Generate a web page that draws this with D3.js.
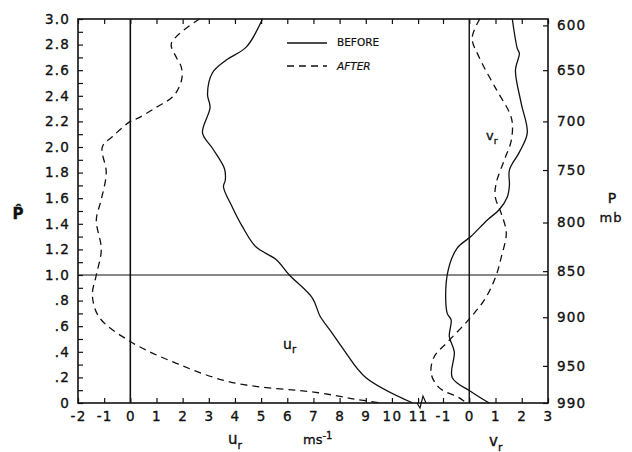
<!DOCTYPE html>
<html>
<head>
<meta charset="utf-8">
<script src="https://cdn.jsdelivr.net/npm/d3@7"></script>
<style>
  body { margin: 0; background: #fff; }
  svg text { font-family: "DejaVu Sans", sans-serif; fill: #111; stroke: #111; stroke-width: 0.35px; }
  .axis text { font-size: 13.5px; letter-spacing: 1.2px; }
  .axis path.domain { display: none; }
  .axis line { stroke: #111; stroke-width: 1.2; }
</style>
</head>
<body>
<svg id="chart" width="632" height="452"></svg>
<script>
// p-hat axis (left)
var pHatTicks = [0, 0.2, 0.4, 0.6, 0.8, 1.0, 1.2, 1.4, 1.6, 1.8, 2.0, 2.2, 2.4, 2.6, 2.8, 3.0];
var pHatLabels = ["0", ".2", ".4", ".6", ".8", "1.0", "1.2", "1.4", "1.6", "1.8", "2.0", "2.2", "2.4", "2.6", "2.8", "3.0"];

// pressure axis (right), position given in p-hat units
var presPos = [2.95, 2.60, 2.20, 1.82, 1.41, 1.03, 0.67, 0.29, 0];
var presLabels = ["600", "650", "700", "750", "800", "850", "900", "950", "990"];

// bottom axes
var uTicks = [-2, -1, 0, 1, 2, 3, 4, 5, 6, 7, 8, 9, 10, 11];
var uLabels = ["-2", "-1", "0", "1", "2", "3", "4", "5", "6", "7", "8", "9", "10", "11"];
var vTicks = [-1, 0, 1, 2, 3];
var vLabels = ["-1", "0", "1", "2", "3"];

// u_r profiles: p-hat and wind (m/s)
var uBeforeP = [3.0, 2.78, 2.68, 2.58, 2.41, 2.31, 2.11, 1.99, 1.83, 1.74, 1.69, 1.53, 1.38, 1.22, 1.12, 1.0, 0.82, 0.68, 0.55, 0.41, 0.2, 0];
var uBeforeV = [5.05, 4.43, 3.67, 3.14, 2.95, 3.05, 2.76, 3.14, 3.6, 3.63, 3.56, 3.9, 4.28, 4.8, 5.58, 6.08, 6.96, 7.25, 7.7, 8.18, 9.0, 10.8];

var uAfterP = [3.0, 2.81, 2.70, 2.63, 2.55, 2.47, 2.39, 2.31, 2.23, 2.20, 2.08, 2.0, 1.8, 1.59, 1.43, 1.2, 1.0, 0.84, 0.67, 0.48, 0.31, 0.16, 0.08, 0.03, 0];
var uAfterV = [2.64, 1.57, 1.76, 1.94, 1.98, 1.87, 1.61, 0.99, 0.34, 0, -0.69, -1.07, -0.92, -1.11, -1.3, -1.11, -1.3, -1.45, -1.19, 0, 1.76, 3.9, 7.2, 8.6, 9.6];

// v_r profiles
var vBeforeP = [3.0, 2.77, 2.73, 2.6, 2.34, 2.11, 1.96, 1.82, 1.7, 1.61, 1.51, 1.43, 1.3, 1.21, 1.0, 0.7, 0.65, 0.52, 0.4, 0.2, 0.09, 0];
var vBeforeV = [1.64, 1.83, 1.91, 1.76, 1.98, 2.21, 1.91, 1.53, 1.53, 1.45, 1.14, 0.69, 0.06, -0.46, -0.84, -0.84, -0.69, -0.76, -0.57, -0.65, 0.06, 0.76];

var vAfterP = [3.0, 2.85, 2.7, 2.45, 2.27, 2.19, 2.05, 1.9, 1.72, 1.61, 1.48, 1.33, 1.14, 1.0, 0.83, 0.67, 0.49, 0.36, 0.23, 0.12, 0.04, 0];
var vAfterV = [0.4, 0.11, 0.38, 1.03, 1.53, 1.64, 1.6, 1.34, 1.03, 0.99, 1.22, 1.41, 1.22, 1.03, 0.65, 0.06, -0.76, -1.34, -1.45, -1.15, -0.38, -0.11];

var svg = d3.select("#chart");

var plotL = 78, plotR = 548, plotT = 19, plotB = 403;
var y = d3.scaleLinear().domain([0, 3]).range([plotB, plotT]);
var xU = d3.scaleLinear().domain([-2, 11.15]).range([plotL, 422]);
var xV = d3.scaleLinear().domain([-1.8, 3]).range([422, plotR]);

function fmt(ticks, labels) {
    return function(d) {
        var i = ticks.indexOf(d);
        return i < 0 ? "" : labels[i];
    };
}

// left axis, ticks every 0.1 pointing inward
var minor = d3.range(0, 31).map(function(i) { return i / 10; });
svg.append("g")
    .attr("class", "axis")
    .attr("transform", "translate(" + plotL + ",0)")
    .call(d3.axisLeft(y).tickValues(minor).tickSize(-5).tickPadding(8)
        .tickFormat(function(d) {
            var i = pHatTicks.findIndex(function(t) { return Math.abs(t - d) < 1e-6; });
            return i < 0 ? "" : pHatLabels[i];
        }));

// right axis (pressure)
svg.append("g")
    .attr("class", "axis")
    .attr("transform", "translate(" + plotR + ",0)")
    .call(d3.axisRight(y).tickValues(presPos).tickSize(-5).tickPadding(9)
        .tickFormat(fmt(presPos, presLabels)));

// bottom axes
svg.append("g")
    .attr("class", "axis")
    .attr("transform", "translate(0," + plotB + ")")
    .call(d3.axisBottom(xU).tickValues(uTicks).tickSize(-5).tickPadding(8)
        .tickFormat(fmt(uTicks, uLabels)));
svg.append("g")
    .attr("class", "axis")
    .attr("transform", "translate(0," + plotB + ")")
    .call(d3.axisBottom(xV).tickValues(vTicks).tickSize(-5).tickPadding(8)
        .tickFormat(fmt(vTicks, vLabels)));

// top ticks
svg.append("g")
    .attr("class", "axis")
    .attr("transform", "translate(0," + plotT + ")")
    .call(d3.axisTop(xU).tickValues(uTicks).tickSize(-5).tickFormat(""));
svg.append("g")
    .attr("class", "axis")
    .attr("transform", "translate(0," + plotT + ")")
    .call(d3.axisTop(xV).tickValues(vTicks).tickSize(-5).tickFormat(""));

// frame
svg.append("rect")
    .attr("x", plotL).attr("y", plotT)
    .attr("width", plotR - plotL).attr("height", plotB - plotT)
    .attr("fill", "none").attr("stroke", "#111").attr("stroke-width", 1.6);

// zero lines and p-hat = 1 line
svg.append("line")
    .attr("x1", xU(0)).attr("x2", xU(0)).attr("y1", plotT).attr("y2", plotB)
    .attr("stroke", "#111").attr("stroke-width", 1.6);
svg.append("line")
    .attr("x1", xV(0)).attr("x2", xV(0)).attr("y1", plotT).attr("y2", plotB)
    .attr("stroke", "#111").attr("stroke-width", 1.4);
svg.append("line")
    .attr("x1", plotL).attr("x2", plotR).attr("y1", y(1)).attr("y2", y(1))
    .attr("stroke", "#111").attr("stroke-width", 1.1);

// axis break between u and v scales
var bx = xU(11.15);
svg.append("path")
    .attr("d", "M" + (bx - 5) + "," + plotB + " L" + (bx - 2) + "," + (plotB + 5) +
        " L" + (bx + 1) + "," + (plotB - 7) + " L" + (bx + 4) + "," + plotB)
    .attr("fill", "none").attr("stroke", "#111").attr("stroke-width", 1.2);

// profiles
function drawProfile(ps, vals, xs, dashed) {
    var pts = ps.map(function(p, i) { return [xs(vals[i]), y(p)]; });
    svg.append("path")
        .attr("d", d3.line().curve(d3.curveCatmullRom.alpha(0.5))(pts))
        .attr("fill", "none")
        .attr("stroke", "#111")
        .attr("stroke-width", 1.3)
        .attr("stroke-dasharray", dashed ? "7,5" : null);
}
drawProfile(uBeforeP, uBeforeV, xU, false);
drawProfile(uAfterP, uAfterV, xU, true);
drawProfile(vBeforeP, vBeforeV, xV, false);
drawProfile(vAfterP, vAfterV, xV, true);

// legend
svg.append("line").attr("x1", 287).attr("x2", 327).attr("y1", 43).attr("y2", 43)
    .attr("stroke", "#111").attr("stroke-width", 1.3);
svg.append("line").attr("x1", 287).attr("x2", 327).attr("y1", 66).attr("y2", 66)
    .attr("stroke", "#111").attr("stroke-width", 1.3).attr("stroke-dasharray", "7,5");
svg.append("text").attr("x", 337).attr("y", 46).style("font-size", "10.5px")
    .style("stroke-width", "0.2px").text("BEFORE");
svg.append("text").attr("x", 337).attr("y", 70).style("font-size", "10.5px")
    .style("stroke-width", "0.2px").style("font-style", "italic").text("AFTER");

// labels with subscript r
function subLabel(x, yy, main, size) {
    var t = svg.append("text").attr("x", x).attr("y", yy).style("font-size", size + "px");
    t.append("tspan").text(main);
    t.append("tspan").attr("dy", size * 0.3).style("font-size", (size * 0.72) + "px").text("r");
}
subLabel(283, 349, "u", 14);
subLabel(486, 140, "v", 13);
subLabel(228, 444, "u", 15);
subLabel(489, 446, "v", 15);

var ms = svg.append("text").attr("x", 303).attr("y", 444).style("font-size", "13px");
ms.append("tspan").text("ms");
ms.append("tspan").attr("dy", -5).style("font-size", "10px").text("-1");

// right axis title
svg.append("text").attr("x", 612).attr("y", 203).attr("text-anchor", "middle")
    .style("font-size", "14px").text("P");
svg.append("text").attr("x", 611).attr("y", 222).attr("text-anchor", "middle")
    .style("font-size", "13px").style("letter-spacing", "1px").text("mb");

// left axis title: p-hat
svg.append("text").attr("x", 18).attr("y", 219).attr("text-anchor", "middle")
    .style("font-size", "15px").style("font-weight", "bold").text("P\u0302");
</script>
</body>
</html>
